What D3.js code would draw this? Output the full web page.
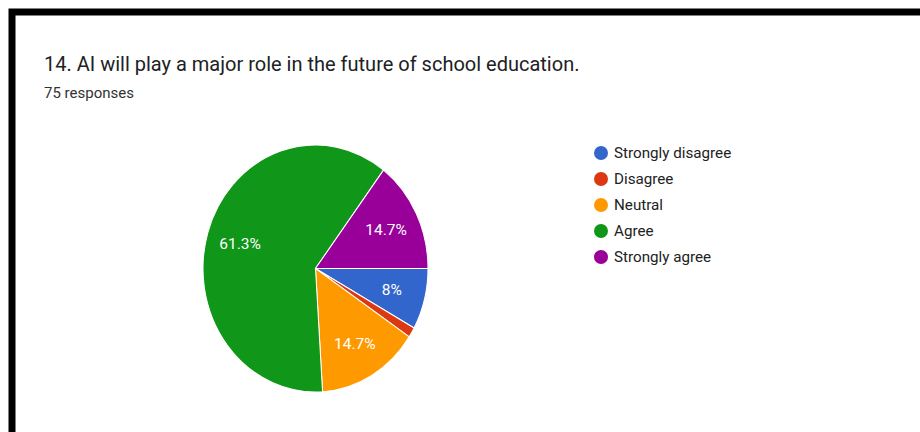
<!DOCTYPE html>
<html>
<head>
<meta charset="utf-8">
<script src="https://cdn.jsdelivr.net/npm/d3@7"></script>
<style>
  html, body { margin: 0; padding: 0; background: #fff; overflow: hidden; }
  svg { display: block; }
</style>
</head>
<body>
<svg id="chart" width="920" height="432"></svg>
<script>
// Survey question 14: answer counts out of 75 responses
const categories = ["Strongly disagree", "Disagree", "Neutral", "Agree", "Strongly agree"];
const counts = [6, 1, 11, 46, 11];
const colors = ["#3366cc", "#dc3912", "#ff9900", "#109618", "#990099"];
const title = "14. AI will play a major role in the future of school education.";
const subtitle = "75 responses";

const svg = d3.select("#chart");
const font = "Roboto, Arial, sans-serif";

// Card frame (thick black edge on top and left)
svg.append("path")
  .attr("d", "M12,440 L12,12 L930,12")
  .attr("fill", "none")
  .attr("stroke", "#000")
  .attr("stroke-width", 7);

svg.append("text")
  .attr("x", 44).attr("y", 71)
  .attr("font-family", font).attr("font-size", 20)
  .attr("fill", "#202124")
  .text(title);

svg.append("text")
  .attr("x", 44).attr("y", 98)
  .attr("font-family", font).attr("font-size", 15)
  .attr("fill", "#333")
  .text(subtitle);

// Pie
const total = d3.sum(counts);
const data = categories.map((c, i) => ({ name: c, value: counts[i], color: colors[i] }));
const r = 112.5;
const pie = d3.pie().value(d => d.value).sort(null)
  .startAngle(Math.PI / 2).endAngle(Math.PI / 2 + 2 * Math.PI);
const arc = d3.arc().innerRadius(0).outerRadius(r);
const labelArc = d3.arc().innerRadius(r * 0.7).outerRadius(r * 0.7);

const g = svg.append("g").attr("transform", "translate(315.5,268.5) scale(1,1.098)");
const arcs = pie(data);

g.selectAll("path.slice").data(arcs).enter().append("path")
  .attr("class", "slice")
  .attr("d", arc)
  .attr("fill", d => d.data.color)
  .attr("stroke", "#fff")
  .attr("stroke-width", 1);

const fmt = v => {
  const p = Math.round(v / total * 1000) / 10;
  return (p % 1 === 0 ? p.toFixed(0) : p.toFixed(1)) + "%";
};

g.selectAll("text.lbl").data(arcs.filter(d => d.data.value / total > 0.05)).enter().append("text")
  .attr("class", "lbl")
  .attr("transform", d => {
    const [x, y] = labelArc.centroid(d);
    return `translate(${x},${y}) scale(1,${1 / 1.098})`;
  })
  .attr("text-anchor", "middle")
  .attr("dy", "0.35em")
  .attr("font-family", font).attr("font-size", 15.5)
  .attr("fill", "#fff")
  .text(d => fmt(d.data.value));

// Legend
const legend = svg.append("g").attr("transform", "translate(601,153)");
const items = legend.selectAll("g").data(data).enter().append("g")
  .attr("transform", (d, i) => `translate(0,${i * 26})`);
items.append("circle").attr("r", 7).attr("fill", d => d.color);
items.append("text")
  .attr("x", 13).attr("dy", "0.35em")
  .attr("font-family", font).attr("font-size", 15.2)
  .attr("fill", "#222")
  .text(d => d.name);
</script>
</body>
</html>
